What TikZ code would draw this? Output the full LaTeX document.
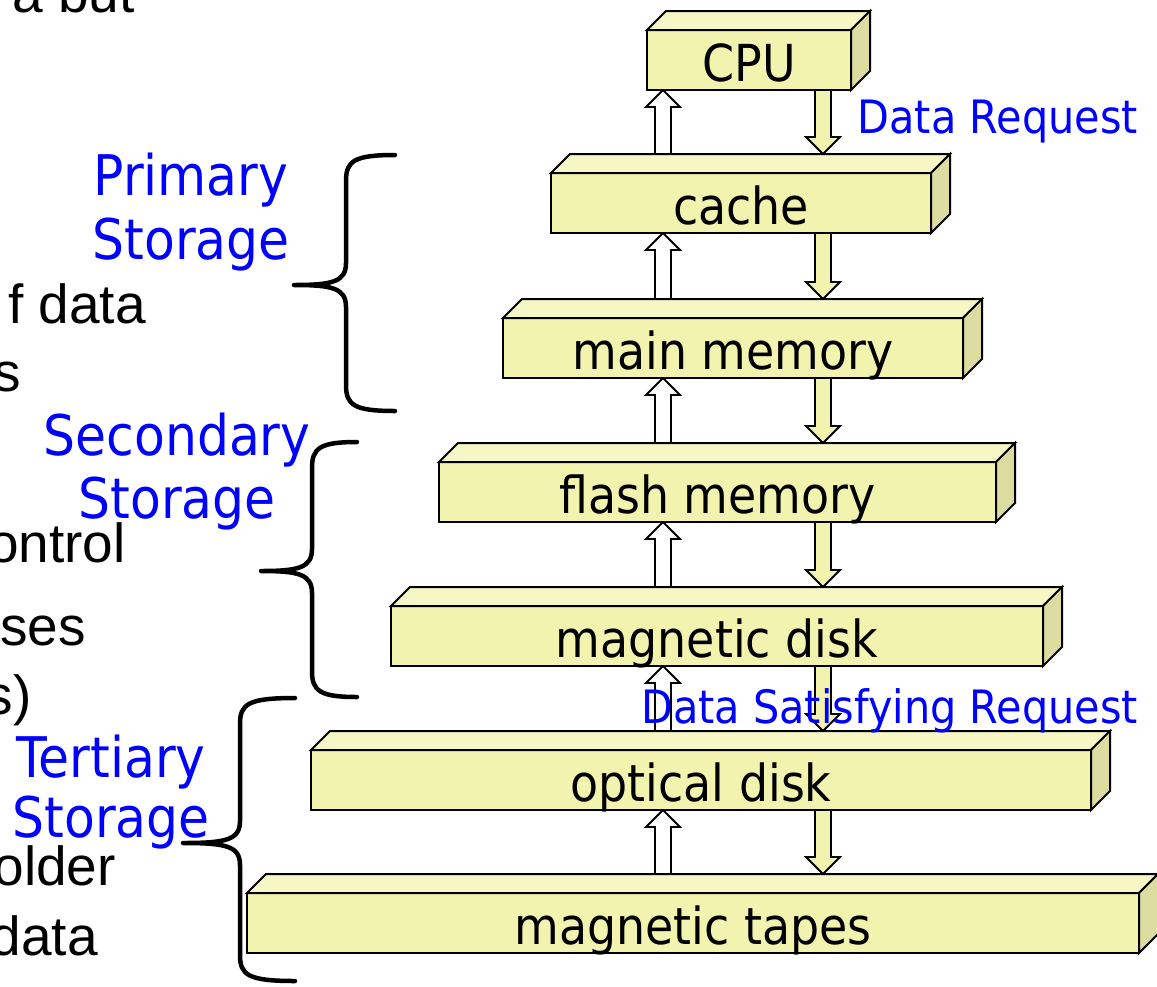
\documentclass[tikz,border=0pt]{standalone}
\usepackage{fontspec}
\newfontfamily\tah[FakeStretch=0.9]{DejaVu Sans}
\newfontfamily\ari{Liberation Sans}
\usetikzlibrary{calc,backgrounds}
\definecolor{boxfront}{RGB}{243,243,176}
\definecolor{boxtop}{RGB}{247,247,198}
\definecolor{boxside}{RGB}{221,220,160}
\definecolor{lblblue}{RGB}{0,0,255}
\newcommand\cuboid[5]{%
  \node[cube, minimum width=#4pt] (#1) at (#2,#3) {#5};
  \filldraw[face, fill=boxtop] (#1.north west) -- ++(19,-19) -- ($(#1.north east)+(19,-19)$) -- (#1.north east) -- cycle;
  \filldraw[face, fill=boxside] (#1.north east) -- ++(19,-19) -- ($(#1.south east)+(19,-19)$) -- (#1.south east) -- cycle;}
\newcommand\pairarrows[2]{%
  \begin{scope}[on background layer]
  \filldraw[uparrow] (#1.south -| upx) -- ++(17,17) -- ++(-9,0) -- ($(#2.north -| upx)+(8,-19)$) -- ++(-16,0) -- ($(#1.south -| upx)+(-8,17)$) -- ++(-9,0) -- cycle;
  \filldraw[dnarrow] ($(#1.south -| dnx)+(-8,0)$) -- ($(#2.north -| dnx)+(-8,-36)$) -- ++(-9,0) -- ($(#2.north -| dnx)+(0,-19)$) -- ++(17,-17) -- ++(-9,0) -- ($(#1.south -| dnx)+(8,0)$) -- cycle;
  \end{scope}}
\newcommand\bracepath[7]{% name, xe, yt, xv, xt, ytip, yb
  \draw[brc] (#2,#3) .. controls (#4+8,#3) and (#4,#3+6) .. (#4,#3+26)
    -- (#4,#6-22) .. controls (#4,#6-3) and (#4-14,#6) .. (#5,#6)
    .. controls (#4-14,#6) and (#4,#6+3) .. (#4,#6+22)
    -- (#4,#7-26) .. controls (#4,#7-6) and (#4+8,#7) .. (#2,#7);
  \coordinate (#1) at (#5,#6);}
\begin{document}
\begin{tikzpicture}[x=1pt,y=-1pt,
  cube/.style={draw=black, line width=2pt, fill=boxfront, anchor=north west, inner sep=0pt, outer sep=0pt,
    text height=51pt, text depth=9pt, font=\tah\fontsize{51}{60}\selectfont},
  face/.style={draw=black, line width=2pt, line join=miter},
  uparrow/.style={draw=black, line width=1.8pt, fill=white},
  dnarrow/.style={draw=black, line width=1.8pt, fill=boxfront},
  brc/.style={draw=black, line width=4.5pt, line cap=round, line join=round},
  bluelbl/.style={text=lblblue, inner sep=0pt, anchor=base, font=\tah\fontsize{56}{64}\selectfont},
  flowlbl/.style={text=lblblue, inner sep=0pt, anchor=base east, font=\tah\fontsize{46}{54}\selectfont},
  sidetxt/.style={inner sep=0pt, anchor=base east, font=\ari\fontsize{55}{66}\selectfont}]
\useasboundingbox (0,0) rectangle (1157,986);
\coordinate (upx) at (663,0);
\coordinate (dnx) at (823,0);

% left text fragments
\node[sidetxt] (t1) at (135,12) {a but};
\node[sidetxt] (t2) at (146,323) {f data};
\node[sidetxt] (t3) at (21,391) {s};
\node[sidetxt] (t4) at (126,562) {ontrol};
\node[sidetxt] (t5) at (86,645) {ses};
\node[sidetxt] (t6) at (32,714) {s)};
\node[sidetxt] (t7) at (116,885) {older};
\node[sidetxt] (t8) at (98,955) {data};

% boxes
\cuboid{cpu}{647}{30}{204}{CPU}
\cuboid{cache}{551}{173}{380}{cache}
\cuboid{mm}{503}{318}{460}{main memory}
\cuboid{flash}{439}{462}{557}{flash memory}
\cuboid{disk}{391}{606}{652}{magnetic disk}
\cuboid{optical}{311}{750}{780}{optical disk}
\cuboid{tapes}{247}{893}{892}{magnetic tapes}

% arrows
\pairarrows{cpu}{cache}
\pairarrows{cache}{mm}
\pairarrows{mm}{flash}
\pairarrows{flash}{disk}
\pairarrows{disk}{optical}
\pairarrows{optical}{tapes}

% braces
\bracepath{bp}{395}{155}{346}{294}{285}{411}
\bracepath{bs}{357}{442}{312}{261}{571}{697}
\bracepath{bt}{295}{698}{240}{183}{843}{981}

% blue labels
\node[bluelbl] (p1) at (191,195) {Primary};
\node[bluelbl] (p2) at (191,259) {Storage};
\node[bluelbl] (s1) at (177,455) {Secondary};
\node[bluelbl] (s2) at (177,518) {Storage};
\node[bluelbl] (r1) at (111,777) {Tertiary};
\node[bluelbl] (r2) at (111,837) {Storage};
\node[flowlbl] (dr) at (1138,133) {Data Request};
\node[flowlbl] (dsr) at (1138,723) {Data Satisfying Request};
\end{tikzpicture}
\end{document}
